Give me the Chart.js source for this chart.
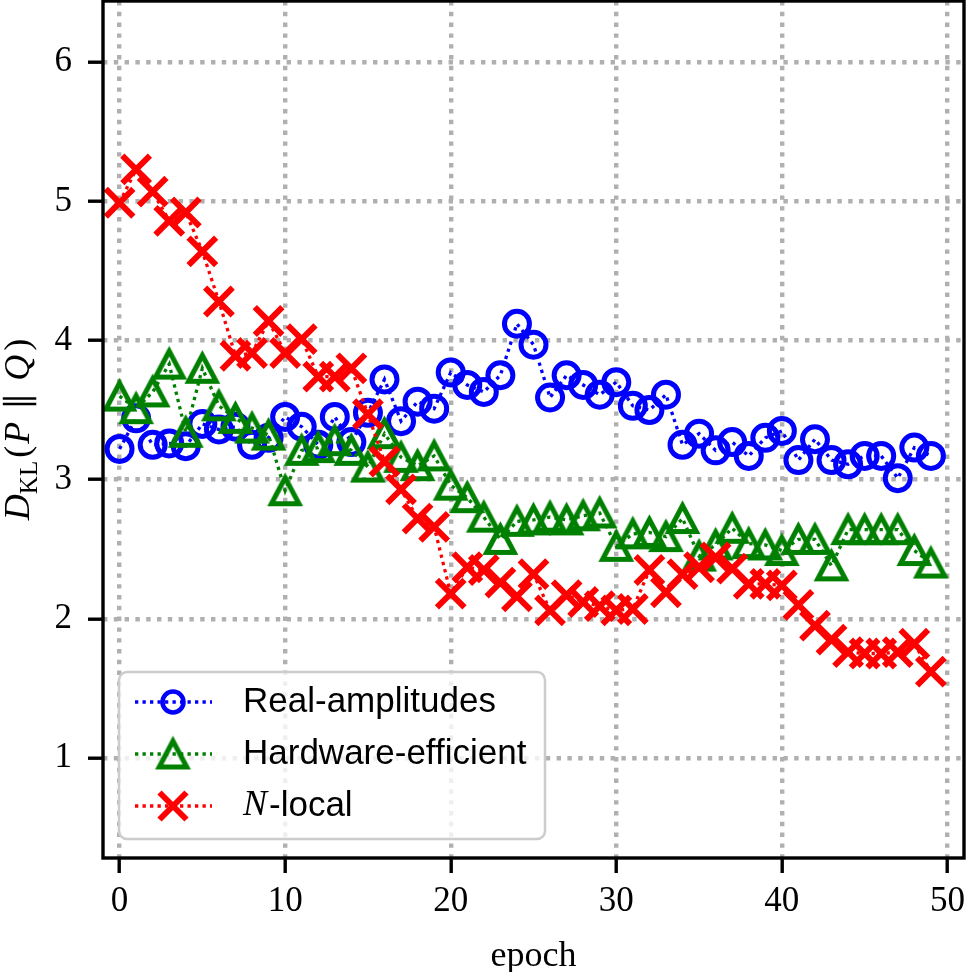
<!DOCTYPE html>
<html>
<head>
<meta charset="utf-8">
<script src="https://cdn.jsdelivr.net/npm/chart.js@4.4.1/dist/chart.umd.min.js"></script>
<style>
  html, body { margin: 0; padding: 0; background: #fff; }
  #wrap { width: 968px; height: 972px; }
</style>
</head>
<body>
<div id="wrap"><canvas id="kl-chart" width="968" height="972"></canvas></div>
<script>
// epochs on the x axis
var epochs = [0, 1, 2, 3, 4, 5, 6, 7, 8, 9,
  10, 11, 12, 13, 14, 15, 16, 17, 18, 19,
  20, 21, 22, 23, 24, 25, 26, 27, 28, 29,
  30, 31, 32, 33, 34, 35, 36, 37, 38, 39,
  40, 41, 42, 43, 44, 45, 46, 47, 48, 49];

var seriesNames = ['Real-amplitudes', 'Hardware-efficient', 'N-local'];

var realAmplitudes = [3.22, 3.44, 3.25, 3.26, 3.24, 3.40, 3.36, 3.38, 3.25, 3.30,
  3.45, 3.38, 3.25, 3.45, 3.27, 3.48, 3.72, 3.42, 3.56, 3.51,
  3.77, 3.68, 3.63, 3.75, 4.12, 3.97, 3.59, 3.75, 3.68, 3.61,
  3.70, 3.53, 3.50, 3.61, 3.25, 3.33, 3.21, 3.27, 3.17, 3.30,
  3.35, 3.14, 3.29, 3.14, 3.11, 3.17, 3.17, 3.01, 3.23, 3.17];

var hardwareEfficient = [3.60, 3.51, 3.63, 3.83, 3.34, 3.80, 3.53, 3.44, 3.37, 3.32,
  2.92, 3.21, 3.23, 3.28, 3.21, 3.09, 3.33, 3.16, 3.10, 3.17,
  2.96, 2.87, 2.73, 2.57, 2.70, 2.71, 2.73, 2.71, 2.74, 2.76,
  2.52, 2.61, 2.62, 2.59, 2.72, 2.45, 2.53, 2.65, 2.54, 2.53,
  2.49, 2.57, 2.57, 2.38, 2.64, 2.64, 2.64, 2.64, 2.49, 2.40];

var nLocal = [4.99, 5.23, 5.07, 4.86, 4.92, 4.64, 4.28, 3.89, 3.91, 4.14,
  3.91, 4.01, 3.74, 3.74, 3.80, 3.47, 3.13, 2.93, 2.72, 2.66,
  2.18, 2.37, 2.35, 2.26, 2.16, 2.32, 2.06, 2.17, 2.12, 2.09,
  2.06, 2.07, 2.35, 2.19, 2.32, 2.37, 2.44, 2.36, 2.25, 2.25,
  2.24, 2.10, 1.95, 1.85, 1.76, 1.75, 1.75, 1.76, 1.82, 1.62];

var xTicks = [0, 10, 20, 30, 40, 50];
var yTicks = [1, 2, 3, 4, 5, 6];

var BLUE = '#0000ff', GREEN = '#008000', RED = '#ff0000';
var SERIF = '"Liberation Serif", "DejaVu Serif", serif';
var SANS = '"Liberation Sans", "DejaVu Sans", sans-serif';
var LINE_W = 3.3, LINE_DASH = [3.3, 4.2];

function points(vals) {
  return epochs.map(function (e, i) { return { x: e, y: vals[i] }; });
}

// matplotlib-style "^" marker: centred on its box, not its circumcircle
function triangleMarker(color, half, lw) {
  var size = Math.ceil(2 * half + 3 * lw);
  var c = document.createElement('canvas');
  c.width = size; c.height = size;
  var g = c.getContext('2d');
  var m = size / 2;
  g.strokeStyle = color;
  g.lineWidth = lw;
  g.lineJoin = 'miter';
  g.beginPath();
  g.moveTo(m, m - half);
  g.lineTo(m - half * 1.06, m + half);
  g.lineTo(m + half * 1.06, m + half);
  g.closePath();
  g.stroke();
  return c;
}

var triImg = triangleMarker(GREEN, 13, 5);

var frame = {
  id: 'frame',
  afterDatasetsDraw: function (chart) {
    var ctx = chart.ctx, a = chart.chartArea;
    ctx.save();
    ctx.strokeStyle = '#000';
    ctx.lineWidth = 3.4;
    ctx.strokeRect(a.left, a.top, a.right - a.left, a.bottom - a.top);
    ctx.restore();
  }
};

var yTitle = {
  id: 'yTitle',
  afterDraw: function (chart) {
    var ctx = chart.ctx, a = chart.chartArea;
    var parts = [
      { t: 'D', f: 'italic 36px ' + SERIF, dy: 0, gap: 0 },
      { t: 'KL', f: '25px ' + SERIF, dy: 8, gap: 0 },
      { t: '(', f: '36px ' + SERIF, dy: 0, gap: 3 },
      { t: 'P', f: 'italic 36px ' + SERIF, dy: 0, gap: 2 },
      { t: '\u2225', f: '34px "DejaVu Sans", sans-serif', dy: 0, gap: 12 },
      { t: 'Q', f: 'italic 36px ' + SERIF, dy: 0, gap: 12 },
      { t: ')', f: '36px ' + SERIF, dy: 0, gap: 4 }
    ];
    ctx.save();
    var total = 0;
    parts.forEach(function (p) {
      ctx.font = p.f;
      p.w = ctx.measureText(p.t).width;
      total += p.gap + p.w;
    });
    ctx.translate(29, (a.top + a.bottom) / 2);
    ctx.rotate(-Math.PI / 2);
    ctx.fillStyle = '#000';
    ctx.textBaseline = 'alphabetic';
    ctx.textAlign = 'left';
    var x = -total / 2;
    parts.forEach(function (p) {
      x += p.gap;
      ctx.font = p.f;
      ctx.fillText(p.t, x, p.dy);
      x += p.w;
    });
    ctx.restore();
  }
};

var legendBox = {
  id: 'legendBox',
  afterDraw: function (chart) {
    var ctx = chart.ctx;
    var bx = 119, by = 672, bw = 426, bh = 167, r = 8;
    ctx.save();
    ctx.beginPath();
    ctx.moveTo(bx + r, by);
    ctx.arcTo(bx + bw, by, bx + bw, by + bh, r);
    ctx.arcTo(bx + bw, by + bh, bx, by + bh, r);
    ctx.arcTo(bx, by + bh, bx, by, r);
    ctx.arcTo(bx, by, bx + bw, by, r);
    ctx.closePath();
    ctx.fillStyle = 'rgba(255,255,255,0.8)';
    ctx.fill();
    ctx.strokeStyle = '#cccccc';
    ctx.lineWidth = 2.5;
    ctx.stroke();

    var rows = [702, 754, 806];
    var colors = [BLUE, GREEN, RED];
    rows.forEach(function (y, i) {
      ctx.setLineDash(LINE_DASH);
      ctx.lineWidth = LINE_W;
      ctx.strokeStyle = colors[i];
      ctx.beginPath();
      ctx.moveTo(135, y);
      ctx.lineTo(212, y);
      ctx.stroke();
      ctx.setLineDash([]);
      var mx = 173;
      if (i === 0) {
        ctx.lineWidth = 4.5;
        ctx.beginPath();
        ctx.arc(mx, y, 10.5, 0, Math.PI * 2);
        ctx.stroke();
      } else if (i === 1) {
        ctx.drawImage(triImg, mx - triImg.width / 2, y - triImg.height / 2);
      } else {
        ctx.lineWidth = 6;
        var d = 13.5;
        ctx.beginPath();
        ctx.moveTo(mx - d, y - d); ctx.lineTo(mx + d, y + d);
        ctx.moveTo(mx - d, y + d); ctx.lineTo(mx + d, y - d);
        ctx.stroke();
      }
    });

    ctx.fillStyle = '#000';
    ctx.textBaseline = 'middle';
    ctx.textAlign = 'left';
    ctx.font = '35px ' + SANS;
    ctx.fillText(seriesNames[0], 243, rows[0]);
    ctx.fillText(seriesNames[1], 243, rows[1]);
    ctx.font = 'italic 36px ' + SERIF;
    ctx.fillText('N', 243, rows[2]);
    var nw = ctx.measureText('N').width;
    ctx.font = '35px ' + SANS;
    ctx.fillText('-local', 243 + nw + 2, rows[2]);
    ctx.restore();
  }
};

var tickFont = { family: SERIF, size: 35 };
var gridOpts = {
  color: '#b0b0b0',
  lineWidth: 4.4,
  tickLength: 15,
  tickWidth: 3.4,
  tickColor: '#000',
  tickBorderDash: []
};

new Chart(document.getElementById('kl-chart').getContext('2d'), {
  type: 'line',
  data: {
    datasets: [
      {
        label: seriesNames[0],
        data: points(realAmplitudes),
        borderColor: BLUE,
        borderWidth: LINE_W,
        borderDash: LINE_DASH,
        pointStyle: 'circle',
        pointRadius: 12.5,
        pointBorderWidth: 5,
        pointBorderColor: BLUE,
        pointBackgroundColor: 'rgba(0,0,0,0)',
        tension: 0,
        order: 3
      },
      {
        label: seriesNames[1],
        data: points(hardwareEfficient),
        borderColor: GREEN,
        borderWidth: LINE_W,
        borderDash: LINE_DASH,
        pointStyle: triImg,
        pointRadius: 15,
        pointBackgroundColor: 'rgba(0,0,0,0)',
        tension: 0,
        order: 2
      },
      {
        label: seriesNames[2],
        data: points(nLocal),
        borderColor: RED,
        borderWidth: LINE_W,
        borderDash: LINE_DASH,
        pointStyle: 'crossRot',
        pointRadius: 19.5,
        pointBorderWidth: 6,
        pointBorderColor: RED,
        pointBackgroundColor: 'rgba(0,0,0,0)',
        tension: 0,
        order: 1
      }
    ]
  },
  options: {
    responsive: false,
    animation: false,
    devicePixelRatio: 1,
    events: [],
    layout: { autoPadding: false, padding: { top: 1, right: 4, left: 0, bottom: 0 } },
    plugins: { legend: { display: false }, tooltip: { enabled: false } },
    scales: {
      x: {
        type: 'linear',
        min: -1,
        max: 51,
        afterBuildTicks: function (s) { s.ticks = xTicks.map(function (v) { return { value: v }; }); },
        ticks: { padding: 8, color: '#000', font: tickFont, maxRotation: 0, autoSkip: false },
        grid: gridOpts,
        border: { display: false, dash: [4.4, 6.4] },
        title: { display: true, text: 'epoch', color: '#000', font: { family: SERIF, size: 36 }, padding: { top: 0, bottom: -6 } },
        afterFit: function (s) { s.height = 114; s.paddingLeft = 0; s.paddingRight = 0; }
      },
      y: {
        type: 'linear',
        min: 0.28,
        max: 6.44,
        afterBuildTicks: function (s) { s.ticks = yTicks.map(function (v) { return { value: v }; }); },
        ticks: { padding: 16, color: '#000', font: tickFont, autoSkip: false },
        grid: gridOpts,
        border: { display: false, dash: [4.4, 6.4] },
        afterFit: function (s) { s.width = 103; s.paddingTop = 0; s.paddingBottom = 0; }
      }
    }
  },
  plugins: [frame, yTitle, legendBox]
});
</script>
</body>
</html>
